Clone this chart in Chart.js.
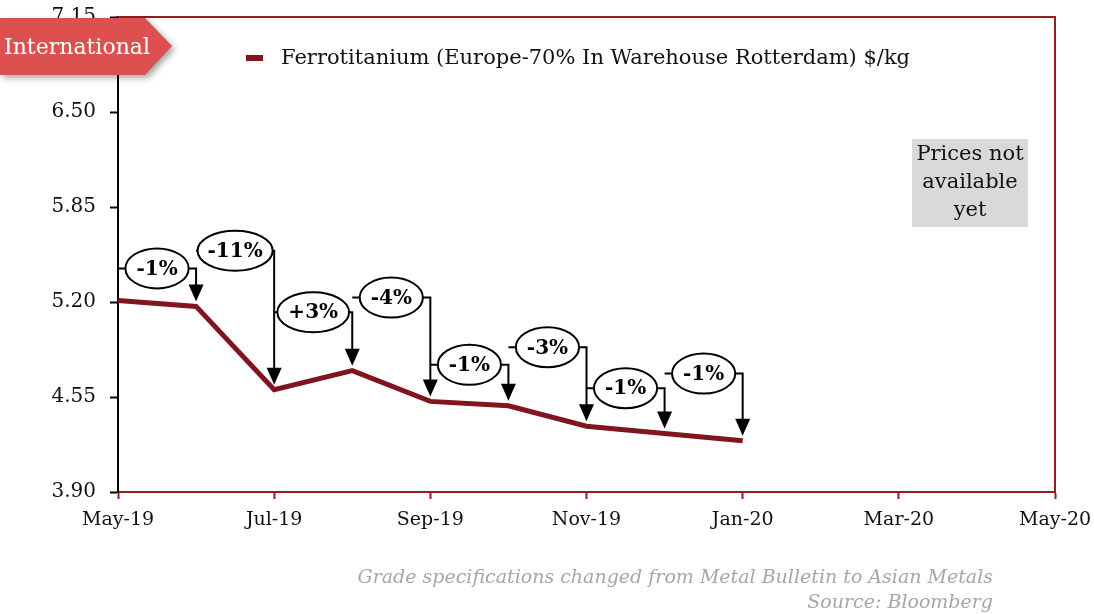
<!DOCTYPE html>
<html>
<head>
<meta charset="utf-8">
<script src="https://cdn.jsdelivr.net/npm/chart.js@4.4.0/dist/chart.umd.min.js"></script>
<style>
  body { margin: 0; background: #fff; }
  #wrap { width: 1094px; height: 614px; }
</style>
</head>
<body>
<div id="wrap"><canvas id="ferro_Chart" width="1094" height="614"></canvas></div>
<script>
// months counted from May-19 (0) to May-20 (12)
const monthLabels = ['May-19', 'Jun-19', 'Jul-19', 'Aug-19', 'Sep-19', 'Oct-19', 'Nov-19',
                     'Dec-19', 'Jan-20', 'Feb-20', 'Mar-20', 'Apr-20', 'May-20'];
const xTicks = [0, 2, 4, 6, 8, 10, 12];
const yTicks = [3.90, 4.55, 5.20, 5.85, 6.50, 7.15];

// Ferrotitanium price $/kg, May-19 .. Jan-20
const prices = [5.21, 5.17, 4.60, 4.73, 4.52, 4.49, 4.35, 4.30, 4.25];

// month-on-month change callouts, and the value level each callout sits at
const changeLabels = ['-1%', '-11%', '+3%', '-4%', '-1%', '-3%', '-1%', '-1%'];
const changeLevels = [5.43, 5.55, 5.13, 5.23, 4.77, 4.89, 4.61, 4.71];

const seriesName = 'Ferrotitanium (Europe-70% In Warehouse Rotterdam) $/kg';
const noteLines = ['Prices not', 'available', 'yet'];
const footLines = ['Grade specifications changed from Metal Bulletin to Asian Metals', 'Source: Bloomberg'];

const FONT = "'DejaVu Serif', 'Liberation Serif', serif";
const MAROON = 'rgb(128, 21, 32)';
const FRAME = 'rgb(150, 28, 34)';

const ctx = document.getElementById('ferro_Chart');

const calloutPlugin = {
    id: 'callouts',
    afterDatasetsDraw(chart) {
        const c = chart.ctx;
        const xs = chart.scales.x, ys = chart.scales.y;
        c.save();
        c.font = 'bold 20px ' + FONT;
        c.strokeStyle = '#000';
        c.fillStyle = '#000';
        c.lineWidth = 2;
        for (let i = 0; i < changeLabels.length; i++) {
            const x0 = xs.getPixelForValue(i);
            const x1 = xs.getPixelForValue(i + 1);
            const yl = ys.getPixelForValue(changeLevels[i]);
            const yp0 = ys.getPixelForValue(prices[i]);
            const yp1 = ys.getPixelForValue(prices[i + 1]);
            const tip = yp1 - 5;
            // left leg, horizontal bar, right arrow shaft
            c.beginPath();
            c.moveTo(x0, Math.min(yl, yp0 - 20));
            c.lineTo(x0, yl);
            c.lineTo(x1, yl);
            c.lineTo(x1, tip - 15);
            c.stroke();
            c.beginPath();
            c.moveTo(x1, tip);
            c.lineTo(x1 - 7.5, tip - 17);
            c.lineTo(x1 + 7.5, tip - 17);
            c.closePath();
            c.fill();
            // ellipse label
            const tw = c.measureText(changeLabels[i]).width;
            const w = Math.min(tw + 22, x1 - x0 - 3);
            const cx = (x0 + x1) / 2;
            c.beginPath();
            c.ellipse(cx, yl, w / 2, 20, 0, 0, Math.PI * 2);
            c.fillStyle = '#fff';
            c.fill();
            c.stroke();
            c.fillStyle = '#000';
            c.textAlign = 'center';
            c.textBaseline = 'middle';
            c.fillText(changeLabels[i], cx, yl + 1);
        }
        c.restore();
    },
    afterDraw(chart) {
        const c = chart.ctx;
        const a = chart.chartArea;
        c.save();
        // top and right frame
        c.strokeStyle = FRAME;
        c.lineWidth = 2;
        c.beginPath();
        c.moveTo(a.left, a.top);
        c.lineTo(a.right, a.top);
        c.lineTo(a.right, a.bottom);
        c.stroke();

        // legend
        c.fillStyle = MAROON;
        c.fillRect(246, 55, 17, 6);
        c.fillStyle = '#111';
        c.font = '21px ' + FONT;
        c.textAlign = 'left';
        c.textBaseline = 'middle';
        c.fillText(seriesName, 281, 59);

        // grey note box
        c.fillStyle = '#d9d9d9';
        c.fillRect(912, 139, 116, 88);
        c.fillStyle = '#111';
        c.textAlign = 'center';
        c.font = '21px ' + FONT;
        noteLines.forEach((t, k) => c.fillText(t, 970, 155 + k * 28));

        // footnotes
        c.fillStyle = '#a6a6a6';
        c.font = 'italic 19px ' + FONT;
        c.textAlign = 'right';
        footLines.forEach((t, k) => c.fillText(t, 993, 578 + k * 25));

        // "International" tag
        c.save();
        c.shadowColor = 'rgba(0,0,0,0.35)';
        c.shadowBlur = 6;
        c.shadowOffsetX = 3;
        c.shadowOffsetY = 3;
        c.fillStyle = 'rgb(220, 80, 80)';
        c.beginPath();
        c.moveTo(0, 18);
        c.lineTo(145, 18);
        c.lineTo(172, 46);
        c.lineTo(145, 75);
        c.lineTo(0, 75);
        c.closePath();
        c.fill();
        c.restore();
        c.fillStyle = '#fff';
        c.font = '22px ' + FONT;
        c.textAlign = 'left';
        c.fillText('International', 4, 48);
        c.restore();
    }
};

new Chart(ctx, {
    type: 'line',
    data: {
        datasets: [{
            label: seriesName,
            data: prices.map((p, i) => ({ x: i, y: p })),
            borderColor: MAROON,
            borderWidth: 5,
            pointRadius: 0,
            tension: 0
        }]
    },
    options: {
        responsive: false,
        animation: false,
        devicePixelRatio: 1,
        layout: { padding: { top: 17, right: 39, left: 0, bottom: 0 } },
        plugins: {
            legend: { display: false },
            tooltip: { enabled: false }
        },
        scales: {
            x: {
                type: 'linear',
                min: 0,
                max: 12,
                afterBuildTicks: (s) => { s.ticks = xTicks.map(v => ({ value: v })); },
                afterFit: (s) => { s.height = 122; s.paddingLeft = 0; s.paddingRight = 0; },
                ticks: {
                    color: '#111',
                    font: { family: FONT, size: 19 },
                    padding: 10,
                    maxRotation: 0,
                    callback: (v) => monthLabels[v]
                },
                grid: { drawOnChartArea: false, tickLength: 7, tickColor: FRAME, tickWidth: 2 },
                border: { color: FRAME, width: 2 }
            },
            y: {
                min: 3.90,
                max: 7.15,
                afterBuildTicks: (s) => { s.ticks = yTicks.map(v => ({ value: v })); },
                afterFit: (s) => { s.width = 118; s.paddingTop = 0; s.paddingBottom = 0; },
                ticks: {
                    color: '#111',
                    font: { family: FONT, size: 20 },
                    padding: 14,
                    callback: (v) => v.toFixed(2)
                },
                grid: { drawOnChartArea: false, tickLength: 8, tickColor: '#000', tickWidth: 2 },
                border: { color: '#000', width: 2 }
            }
        }
    },
    plugins: [calloutPlugin]
});
</script>
</body>
</html>
